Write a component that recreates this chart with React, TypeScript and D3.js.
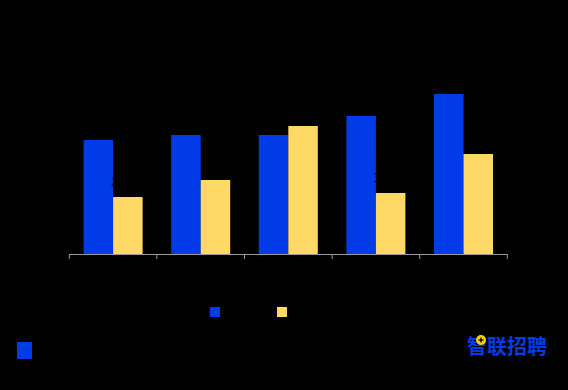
import React from "react";
import * as d3 from "d3";

const categories = ["2019", "2020", "2021", "2022", "2023"];
const seriesNames = ["系列一", "系列二"];
const blueValues = [57, 59.5, 59.5, 69, 80];
const yellowValues = [28.5, 37, 64, 30.5, 50];

const W = 568;
const H = 390;
const BLUE = "#003BE8";
const YELLOW = "#FFD966";

export default function App() {
  const x0 = d3.scaleBand<string>().domain(categories).range([69.3, 507.3]).padding(0);
  const x1 = d3
    .scaleBand<string>()
    .domain(seriesNames)
    .range([0, x0.bandwidth()])
    .paddingInner(0)
    .paddingOuter(0.485);
  const y = d3.scaleLinear().domain([0, 100]).range([254, 54]);
  const data = categories.map((c, i) => ({ c, vals: [blueValues[i], yellowValues[i]] }));
  const colors = [BLUE, YELLOW];
  const ticks = [...categories.map((c) => x0(c) as number), (x0(categories[categories.length - 1]) as number) + x0.bandwidth()];

  return (
    <svg width={W} height={H} style={{ position: "absolute", left: 0, top: 0, display: "block" }}>
      <rect x={0} y={0} width={W} height={H} fill="#000" />
      {data.map((d) =>
        d.vals.map((v, j) => (
          <rect
            key={d.c + j}
            x={(x0(d.c) as number) + (x1(seriesNames[j]) as number)}
            y={y(v)}
            width={x1.bandwidth()}
            height={y(0) - y(v)}
            fill={colors[j]}
          />
        ))
      )}
      {data.map((d) => (
        <text
          key={"lab" + d.c}
          x={(x0(d.c) as number) + (x1(seriesNames[1]) as number) + x1.bandwidth() / 2}
          y={y(d.vals[1]) - 11}
          textAnchor="middle"
          fontSize={12}
          fontFamily="Noto Sans, sans-serif"
          fill="#000"
        >
          {d.vals[1]}%
        </text>
      ))}
      <line x1={69.3} x2={507.3} y1={254.5} y2={254.5} stroke="#999" strokeWidth={1} />
      {ticks.map((t, i) => (
        <line key={"t" + i} x1={t} x2={t} y1={254} y2={259} stroke="#999" strokeWidth={1} />
      ))}
      {categories.map((c) => (
        <text
          key={"cat" + c}
          x={(x0(c) as number) + x0.bandwidth() / 2}
          y={275}
          textAnchor="middle"
          fontSize={12}
          fontFamily="Noto Sans, sans-serif"
          fill="#000"
        >
          {c}
        </text>
      ))}
      <rect x={210} y={307} width={10} height={10} fill={BLUE} />
      <text x={224} y={316} fontSize={12} fontFamily="Noto Sans CJK SC, sans-serif" fill="#000">
        {seriesNames[0]}
      </text>
      <rect x={277} y={307} width={10} height={10} fill={YELLOW} />
      <text x={291} y={316} fontSize={12} fontFamily="Noto Sans CJK SC, sans-serif" fill="#000">
        {seriesNames[1]}
      </text>
      <rect x={17} y={342} width={15} height={17} fill={BLUE} />
      <text
        x={467}
        y={354}
        fontSize={20}
        fontWeight="bold"
        fontFamily="Noto Sans CJK SC, sans-serif"
        fill={BLUE}
      >
        智联招聘
      </text>
      <circle cx={481} cy={340} r={5} fill="#FFD000" />
      <line x1={478.5} x2={483.5} y1={340} y2={340} stroke="#000" strokeWidth={1.3} />
      <line x1={481} x2={481} y1={337.5} y2={342.5} stroke="#000" strokeWidth={1.3} />
    </svg>
  );
}
